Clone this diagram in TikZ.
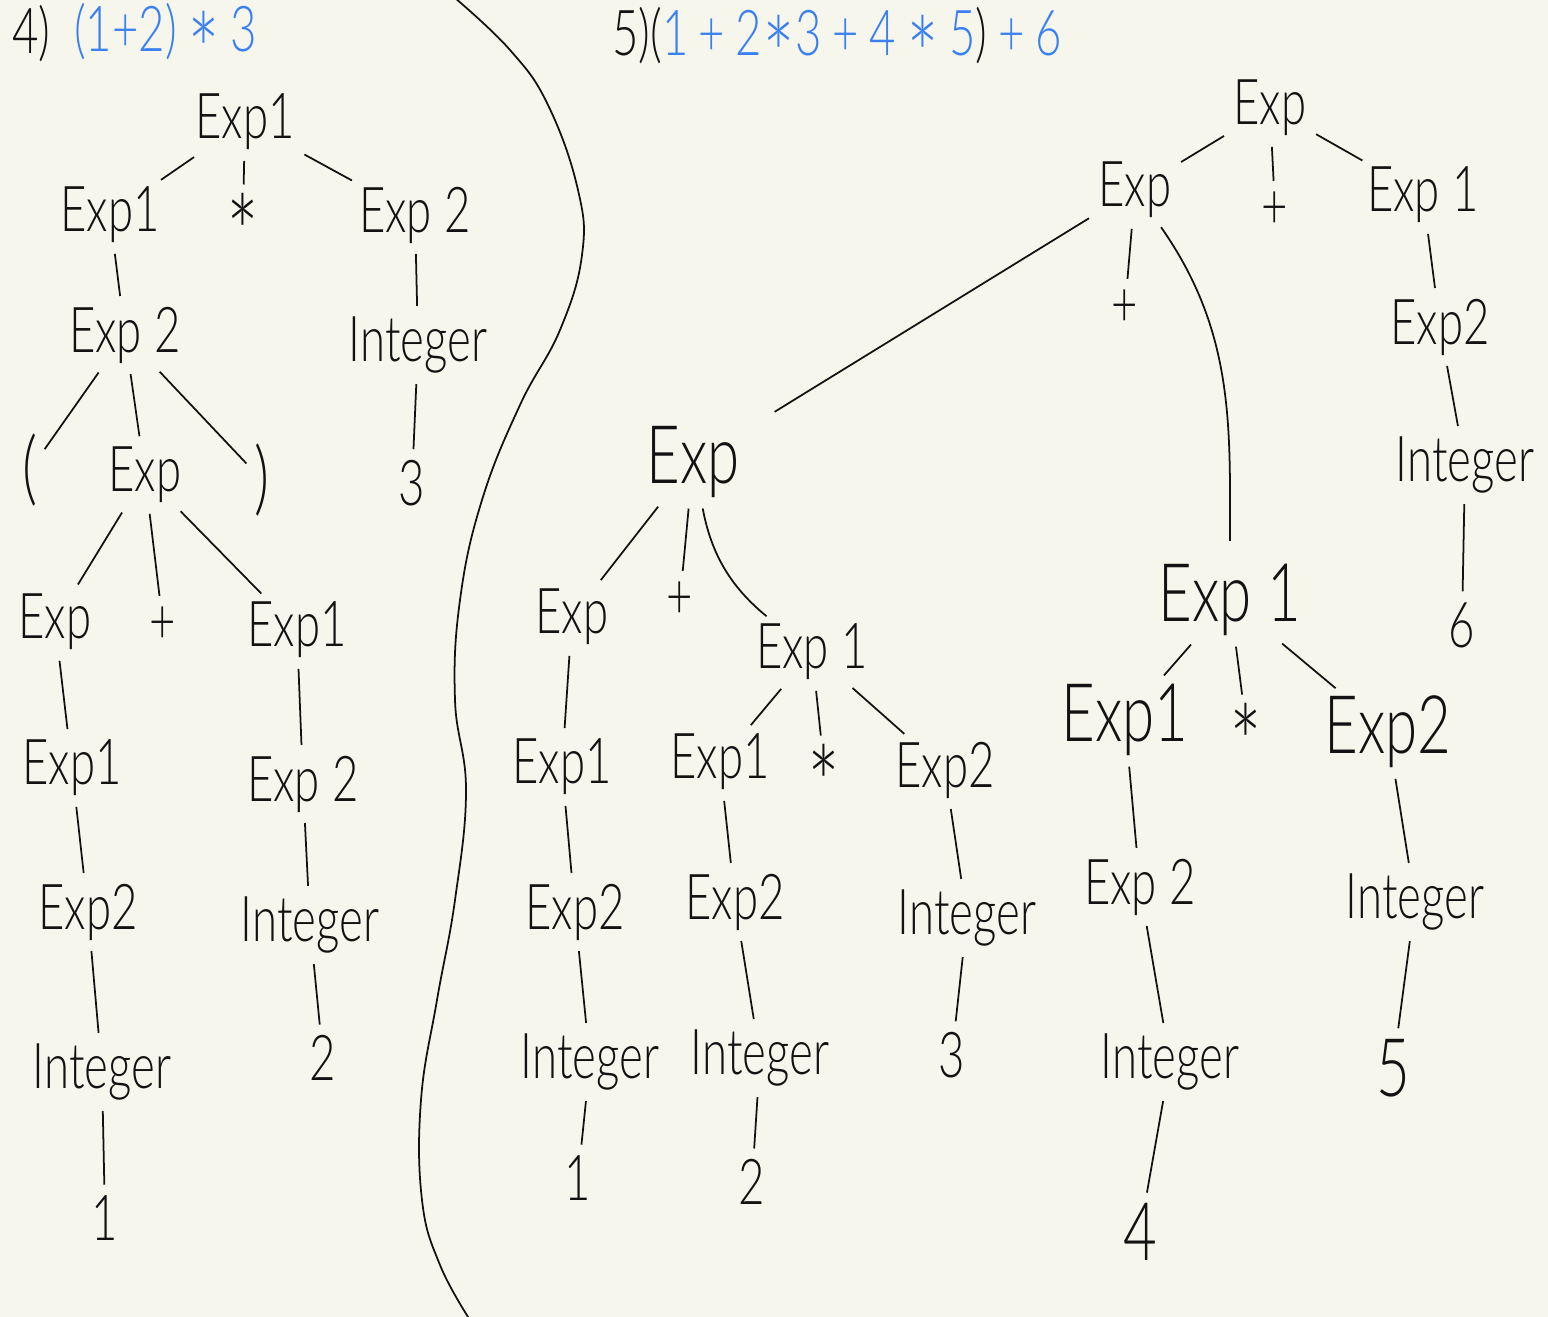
\documentclass[tikz,border=0pt]{standalone}
\usepackage{fontspec}
\setmainfont{Lato Light}[FakeStretch=0.72]
\usepackage{xcolor}
\definecolor{paper}{RGB}{246,246,236}
\definecolor{pen}{RGB}{18,18,18}
\definecolor{inkblue}{RGB}{58,128,240}
\newcommand{\mul}{\raisebox{-0.62em}[0.62em][0pt]{\scalebox{1.7}{*}}}

\begin{document}
\begin{tikzpicture}[x=0.02cm,y=-0.02cm,inner sep=1pt,
  sym/.style={font=\fontsize{36}{40}\selectfont,text=pen},
  big/.style={font=\fontsize{46}{50}\selectfont,text=pen},
  every edge/.style={draw=pen,line width=1pt,shorten <=5pt,shorten >=5pt}]
\useasboundingbox (0,0) rectangle (1548,1317);
\fill[paper] (0,0) rectangle (1548,1317);

\node[sym,anchor=base west] (h4) at (10,54) {4)};
\node[sym,text=inkblue,anchor=base west] (e4) at (72,52) {(1+2)\,\mul\,3};
\node[sym,anchor=base west] (h5) at (610,56) {5)(\textcolor{inkblue}{1\,+\,2\mul3\,+\,4\,\mul\,5})\textcolor{inkblue}{\,+\,6}};

\node[sym] (L0) at (245,122) {Exp1};
\node[sym] (L1) at (110,215) {Exp1};
\node[sym] (L2) at (243,215) {\mul};
\node[sym] (L3) at (415,215) {Exp 2};
\node[sym] (L4) at (125,335) {Exp 2};
\node[sym] (L5) at (418,345) {Integer};
\node[sym] (L6) at (412,483) {3};
\node[big] (L7) at (30,470) {(};
\node[sym] (L8) at (145,475) {Exp};
\node[big] (L9) at (262,480) {)};
\node[sym] (L10) at (55,622) {Exp};
\node[sym] (L11) at (163,625) {+};
\node[sym] (L12) at (297,630) {Exp1};
\node[sym] (L13) at (72,768) {Exp1};
\node[sym] (L14) at (303,784) {Exp 2};
\node[sym] (L15) at (88,912) {Exp2};
\node[sym] (L16) at (310,925) {Integer};
\node[sym] (L17) at (102,1072) {Integer};
\node[sym] (L18) at (323,1058) {2};
\node[sym] (L19) at (105,1218) {1};

\path (L0) edge (L1) edge (L2) edge (L3);
\path (L1) edge (L4);
\path (L3) edge (L5);
\path (L5) edge (L6);
\path (L4) edge (L7) edge (L8) edge (L9);
\path (L8) edge (L10) edge (L11) edge (L12);
\path (L10) edge (L13);
\path (L12) edge (L14);
\path (L13) edge (L15);
\path (L14) edge (L16);
\path (L15) edge (L17);
\path (L16) edge (L18);
\path (L17) edge (L19);

\draw[pen,line width=1pt] plot[smooth,tension=0.7] coordinates {(455,-2) (510,50) (548,105) (578,190) (582,255) (560,330) (520,405) (482,500) (460,600) (455,700) (466,790) (455,900) (437,1000) (421,1100) (422,1200) (440,1265) (470,1320)};

\node[sym] (R0) at (1270,108) {Exp};
\node[sym] (R1) at (1135,190) {Exp};
\node[sym] (R2) at (1275,210) {+};
\node[sym] (R3) at (1423,195) {Exp 1};
\node[sym] (R4) at (1125,308) {+};
\node[big] (R5) at (693,462) {Exp};
\node[big] (R6) at (1230,600) {Exp 1};
\node[sym] (R7) at (1440,327) {Exp2};
\node[sym] (R8) at (1465,465) {Integer};
\node[sym] (R9) at (1462,625) {6};
\node[sym] (R10) at (572,617) {Exp};
\node[sym] (R11) at (680,600) {+};
\node[sym] (R12) at (812,652) {Exp 1};
\node[sym] (R13) at (562,767) {Exp1};
\node[sym] (R14) at (720,762) {Exp1};
\node[sym] (R15) at (824,766) {\mul};
\node[sym] (R16) at (945,770) {Exp2};
\node[sym] (R17) at (575,912) {Exp2};
\node[sym] (R18) at (735,902) {Exp2};
\node[sym] (R19) at (967,918) {Integer};
\node[sym] (R20) at (590,1062) {Integer};
\node[sym] (R21) at (760,1058) {Integer};
\node[sym] (R22) at (952,1055) {3};
\node[sym] (R23) at (578,1178) {1};
\node[sym] (R24) at (752,1182) {2};
\node[big] (R25) at (1125,720) {Exp1};
\node[sym] (R26) at (1246,725) {\mul};
\node[big] (R27) at (1388,732) {Exp2};
\node[sym] (R28) at (1140,887) {Exp 2};
\node[sym] (R29) at (1415,902) {Integer};
\node[sym] (R30) at (1170,1062) {Integer};
\node[big] (R31) at (1393,1068) {5};
\node[big] (R32) at (1140,1232) {4};

\path (R0) edge (R1) edge (R2) edge (R3);
\path (R1) edge (R4);
\path (R1) edge[shorten >=22pt] (R5);
\path (R1) edge[out=-55,in=90,shorten >=12pt] (R6);
\path (R3) edge (R7);
\path (R7) edge (R8);
\path (R8) edge (R9);
\path (R5) edge (R10) edge (R11);
\path (R5) edge[bend right=20] (R12);
\path (R10) edge (R13);
\path (R12) edge (R14) edge (R15) edge (R16);
\path (R13) edge (R17);
\path (R14) edge (R18);
\path (R16) edge (R19);
\path (R17) edge (R20);
\path (R18) edge (R21);
\path (R19) edge (R22);
\path (R20) edge (R23);
\path (R21) edge (R24);
\path (R6) edge (R25) edge (R26) edge (R27);
\path (R25) edge (R28);
\path (R27) edge (R29);
\path (R28) edge (R30);
\path (R29) edge (R31);
\path (R30) edge (R32);
\end{tikzpicture}
\end{document}
